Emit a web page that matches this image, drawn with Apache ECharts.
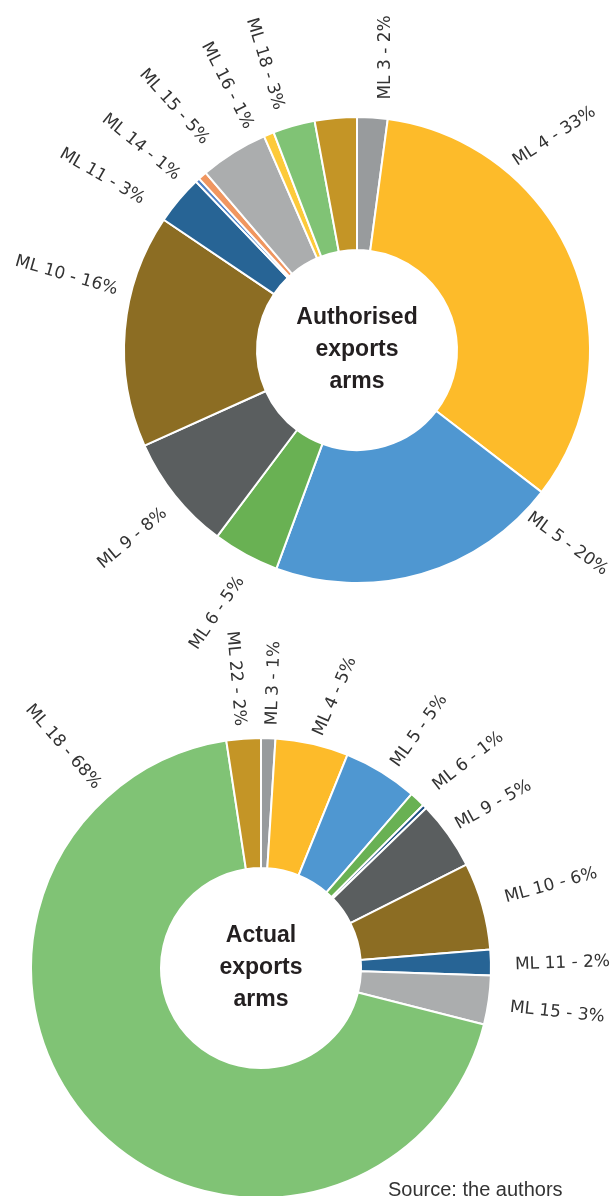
<!DOCTYPE html>
<html><head><meta charset="utf-8">
<script src="https://cdn.jsdelivr.net/npm/echarts@6/dist/echarts.min.js"></script>
<style>html,body{margin:0;padding:0;background:#fff}#c{width:615px;height:1196px}</style>
</head><body><div id="c"></div>
<script>
// ---- data ----
const authorisedNames = ['ML 3','ML 4','ML 5','ML 6','ML 9','ML 10','ML 11','ML 13','ML 14','ML 15','ML 16','ML 18','ML 22'];
const authorisedValues = [2.1, 33.2, 20.1, 4.6, 8.0, 16.1, 3.4, 0.3, 0.6, 4.7, 0.7, 2.9, 2.9];
const authorisedUnlabelled = ['ML 13','ML 22'];
const actualNames = ['ML 3','ML 4','ML 5','ML 6','ML 8','ML 9','ML 10','ML 11','ML 15','ML 18','ML 22'];
const actualValues = [1.0, 5.1, 5.2, 1.1, 0.3, 4.8, 6.1, 1.8, 3.4, 68.3, 2.4];
const actualUnlabelled = ['ML 8'];
const titleTop = 'Authorised\nexports\narms';
const titleBottom = 'Actual\nexports\narms';
const sourceText = 'Source: the authors';

// ---- styles ----
const colorsTop = {'ML 3':'#989b9d','ML 4':'#fdbb2a','ML 5':'#4f97d1','ML 6':'#69b153','ML 9':'#5a5e5f','ML 10':'#8c6d23','ML 11':'#276495','ML 13':'#4f82c8','ML 14':'#f09660','ML 15':'#abadae','ML 16':'#fdca3a','ML 18':'#80c375','ML 22':'#c49526'};
const colorsBottom = Object.assign({}, colorsTop, {'ML 8':'#1d4f82'});
// label placement tweaks: angle clockwise from top (deg), text direction (deg), distance from centre (px)
const labelTweaksTop = {
  'ML 3':{pos:6.4,dir:0,dist:252}, 'ML 4':{pos:40,dir:57,dist:245}, 'ML 5':{pos:134,dir:126,dist:239},
  'ML 6':{pos:207,dir:214,dist:256}, 'ML 9':{pos:230,dir:230,dist:251}, 'ML 10':{pos:284,dir:286,dist:247},
  'ML 11':{pos:305,dir:300,dist:261}, 'ML 14':{pos:314,dir:309,dist:249}, 'ML 15':{pos:324,dir:318,dist:257},
  'ML 16':{pos:334,dir:333,dist:247}, 'ML 18':{pos:342,dir:343,dist:253}
};
const labelTweaksBottom = {
  'ML 22':{pos:355,dir:355,dist:243}, 'ML 3':{pos:2.6,dir:2,dist:243}, 'ML 4':{pos:13.7,dir:24,dist:240},
  'ML 5':{pos:33.4,dir:35.5,dist:243}, 'ML 6':{pos:43.9,dir:52,dist:251}, 'ML 9':{pos:53.9,dir:61,dist:242},
  'ML 10':{pos:74,dir:74.7,dist:254}, 'ML 11':{pos:89.3,dir:88,dist:254}, 'ML 15':{pos:99,dir:96,dist:252},
  'ML 18':{pos:318,dir:319,dist:244}
};

const TOP = {cx:357, cy:350, r0:100, r1:233};
const BOT = {cx:261, cy:968, r0:100, r1:230};
const LABEL_GAP = 18;
const labelFont = 'DejaVu Sans';

function makeLayout(names, values, geo, tweaks) {
  const total = values.reduce((a,b)=>a+b,0);
  const mids = []; let acc = 0;
  values.forEach(v => { mids.push((acc + v/2)/total*360); acc += v; });
  return function(params) {
    const i = params.dataIndex;
    const t = tweaks[names[i]] || {};
    const pos = t.pos != null ? t.pos : mids[i];
    const dir = t.dir != null ? t.dir : pos;
    const rr = t.dist != null ? t.dist : geo.r1 + LABEL_GAP;
    const rad = pos*Math.PI/180;
    const x = geo.cx + rr*Math.sin(rad), y = geo.cy - rr*Math.cos(rad);
    const right = dir < 180;
    return {x:x, y:y, rotate: right ? 90 - dir : 270 - dir, align: right ? 'left' : 'right', verticalAlign:'middle'};
  };
}

function buildData(names, values, colors, hidden) {
  return names.map((n,i)=>({
    name:n, value:values[i],
    itemStyle:{color:colors[n]},
    label: hidden.indexOf(n) >= 0 ? {show:false} : undefined
  }));
}

function pieSeries(names, values, colors, hidden, geo, tweaks) {
  return {
    type:'pie', center:[geo.cx, geo.cy], radius:[geo.r0, geo.r1],
    startAngle:90, clockwise:true, avoidLabelOverlap:false,
    silent:true, animation:false,
    itemStyle:{borderColor:'#ffffff', borderWidth:2},
    label:{show:true, position:'outside', rotate:'radial', color:'#333333', fontFamily:labelFont, fontSize:17,
      formatter: p => p.name + ' - ' + Math.round(p.value) + '%'},
    labelLine:{show:false},
    labelLayout: makeLayout(names, values, geo, tweaks),
    data: buildData(names, values, colors, hidden)
  };
}

const chart = echarts.init(document.getElementById('c'), null, {renderer:'canvas'});
chart.setOption({
  animation:false,
  backgroundColor:'#ffffff',
  series:[
    pieSeries(authorisedNames, authorisedValues, colorsTop, authorisedUnlabelled, TOP, labelTweaksTop),
    pieSeries(actualNames, actualValues, colorsBottom, actualUnlabelled, BOT, labelTweaksBottom)
  ],
  graphic:[
    {type:'text', x:TOP.cx, y:TOP.cy, style:{text:titleTop, align:'center', verticalAlign:'middle', fontFamily:'Liberation Sans', fontWeight:'bold', fontSize:23, lineHeight:32, fill:'#231f20'}},
    {type:'text', x:BOT.cx, y:BOT.cy, style:{text:titleBottom, align:'center', verticalAlign:'middle', fontFamily:'Liberation Sans', fontWeight:'bold', fontSize:23, lineHeight:32, fill:'#231f20'}},
    {type:'text', x:388, y:1180, style:{text:sourceText, align:'left', verticalAlign:'top', fontFamily:'Liberation Sans', fontSize:20, fill:'#333333'}}
  ]
});
</script></body></html>
